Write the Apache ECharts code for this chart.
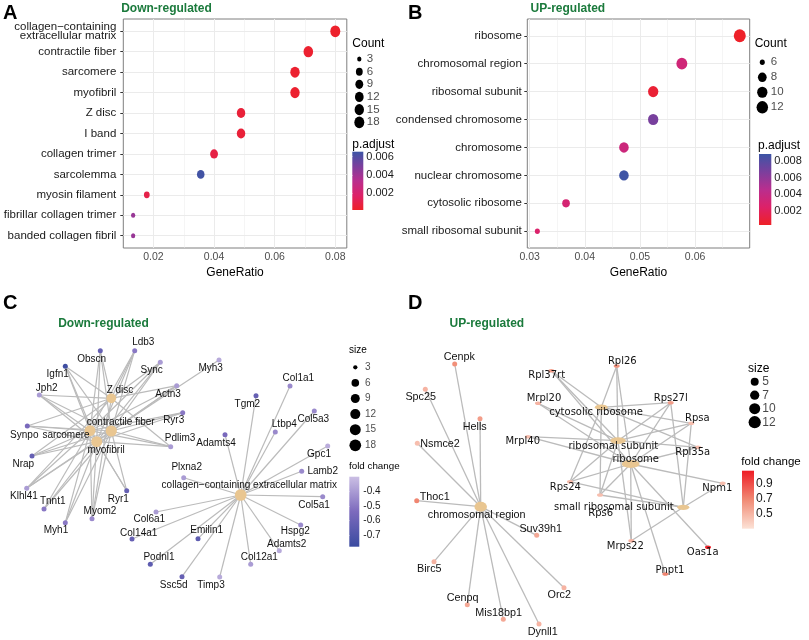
<!DOCTYPE html>
<html><head><meta charset="utf-8">
<script src="https://cdn.jsdelivr.net/npm/echarts@6/dist/echarts.min.js"></script>
<style>html,body{margin:0;padding:0;background:#fff}#c{width:809px;height:640px}</style>
</head><body><div id="c"></div>
<script>
// ================= DATA =================
// Panel A (Down-regulated GO dot plot)
const aTerms = ['collagen\u2212containing\nextracellular matrix','contractile fiber','sarcomere','myofibril','Z disc','I band','collagen trimer','sarcolemma','myosin filament','fibrillar collagen trimer','banded collagen fibril'];
const aGeneRatio = [0.0800,0.0711,0.0667,0.0667,0.0489,0.0489,0.0400,0.0356,0.0178,0.0133,0.0133];
const aCount = [18,16,15,15,11,11,9,8,4,3,3];
const aPadj = [0.0003,0.0004,0.0004,0.0004,0.0006,0.0006,0.0009,0.0064,0.0010,0.0042,0.0042];
const aXTicks = [0.02,0.04,0.06,0.08];
const aXMinor = [0.03,0.05,0.07];
const aCountBreaks = [3,6,9,12,15,18];
const aPadjBreaks = [0.002,0.004,0.006];

// Panel B (UP-regulated GO dot plot)
const bTerms = ['ribosome','chromosomal region','ribosomal subunit','condensed chromosome','chromosome','nuclear chromosome','cytosolic ribosome','small ribosomal subunit'];
const bGeneRatio = [0.0681,0.0576,0.0524,0.0524,0.0471,0.0471,0.0366,0.0314];
const bCount = [13,11,10,10,9,9,7,6];
const bPadj = [0.0004,0.0033,0.0008,0.0068,0.0035,0.0087,0.0030,0.0026];
const bXTicks = [0.03,0.04,0.05,0.06];
const bXMinor = [0.035,0.045,0.055,0.065];
const bCountBreaks = [6,8,10,12];
const bPadjBreaks = [0.002,0.004,0.006,0.008];

// Panel C (Down-regulated gene-concept network)
const cCategories = ['contractile fiber','sarcomere','myofibril','Z disc','collagen\u2212containing extracellular matrix'];
const cCatCount = [16,15,15,11,18];
const cGenes = ['Ldb3','Obscn','Igfn1','Sync','Myh3','Jph2','Actn3','Ryr3','Synpo','Pdlim3','Nrap','Klhl41','Tnnt1','Ryr1','Myom2','Myh1',
  'Tgm2','Col1a1','Ltbp4','Col5a3','Adamts4','Gpc1','Lamb2','Plxna2','Col5a1','Col6a1','Col14a1','Emilin1','Hspg2','Adamts2','Podnl1','Col12a1','Ssc5d','Timp3'];
const cFold = [-0.50,-0.62,-0.76,-0.40,-0.36,-0.40,-0.40,-0.50,-0.55,-0.40,-0.62,-0.40,-0.50,-0.62,-0.45,-0.50,
  -0.62,-0.45,-0.45,-0.45,-0.55,-0.35,-0.45,-0.40,-0.45,-0.40,-0.62,-0.65,-0.45,-0.36,-0.65,-0.40,-0.62,-0.36];
const cContractile = ['Ldb3','Obscn','Igfn1','Sync','Myh3','Jph2','Actn3','Ryr3','Synpo','Pdlim3','Nrap','Klhl41','Tnnt1','Ryr1','Myom2','Myh1'];
const cSarcomere = ['Ldb3','Obscn','Igfn1','Sync','Jph2','Actn3','Ryr3','Synpo','Pdlim3','Nrap','Klhl41','Tnnt1','Ryr1','Myom2','Myh1'];
const cMyofibril = ['Ldb3','Obscn','Igfn1','Sync','Jph2','Actn3','Ryr3','Synpo','Pdlim3','Nrap','Klhl41','Tnnt1','Ryr1','Myom2','Myh1'];
const cZdisc = ['Ldb3','Obscn','Igfn1','Sync','Jph2','Actn3','Synpo','Pdlim3','Nrap','Klhl41','Myom2'];
const cECM = ['Tgm2','Col1a1','Ltbp4','Col5a3','Adamts4','Gpc1','Lamb2','Plxna2','Col5a1','Col6a1','Col14a1','Emilin1','Hspg2','Adamts2','Podnl1','Col12a1','Ssc5d','Timp3'];
const cSizeBreaks = [3,6,9,12,15,18];
const cFoldBreaks = [-0.4,-0.5,-0.6,-0.7];

// Panel D (UP-regulated gene-concept network)
const dCategories = ['chromosomal region','cytosolic ribosome','ribosomal subunit','ribosome','small ribosomal subunit'];
const dCatCount = [11,7,10,13,6];
const dGenes = ['Cenpk','Spc25','Hells','Nsmce2','Thoc1','Suv39h1','Birc5','Cenpq','Mis18bp1','Dynll1','Orc2',
  'Rpl26','Rpl37rt','Mrpl20','Rps27l','Rpsa','Mrpl40','Rpl35a','Rps24','Npm1','Rps6','Mrps22','Oas1a','Pnpt1'];
const dFold = [0.66,0.50,0.60,0.45,0.70,0.55,0.50,0.55,0.55,0.50,0.50,
  0.65,0.60,0.50,0.60,0.45,0.45,0.45,0.47,0.45,0.45,0.50,1.05,0.70];
const dChromRegion = ['Cenpk','Spc25','Hells','Nsmce2','Thoc1','Suv39h1','Birc5','Cenpq','Mis18bp1','Dynll1','Orc2'];
const dCytosolic = ['Rpl26','Rpl37rt','Rps27l','Rpsa','Rpl35a','Rps24','Rps6'];
const dRiboSubunit = ['Rpl26','Rpl37rt','Mrpl20','Mrpl40','Rps27l','Rpsa','Rpl35a','Rps24','Rps6','Mrps22'];
const dRibosome = ['Rpl26','Rpl37rt','Mrpl20','Mrpl40','Rps27l','Rpsa','Rpl35a','Rps24','Rps6','Npm1','Mrps22','Oas1a','Pnpt1'];
const dSmallSub = ['Rps27l','Rpsa','Rps24','Rps6','Mrps22','Npm1'];
const dSizeBreaks = [5,7,10,12];
const dFoldBreaks = [0.5,0.7,0.9];

// Network layouts (layout units inside each panel)
const layoutC = {
  'Ldb3':[134.7,50.7],'Obscn':[100.3,50.7],'Igfn1':[65.3,66.3],'Sync':[160.3,62.3],'Myh3':[219,60],'Jph2':[39.3,95],
  'Z disc':[111.3,98.3],'Actn3':[176.7,85.7],'Ryr3':[182.7,112.7],'contractile fiber':[111.3,131],'sarcomere':[90,130.7],
  'myofibril':[96.7,141.7],'Synpo':[27.3,126],'Pdlim3':[170.7,146.7],'Nrap':[32,156],'Klhl41':[26.7,188.3],'Tnnt1':[44,209],
  'Ryr1':[126.7,190.7],'Myom2':[92,218.7],'Myh1':[65.3,222.7],
  'collagen\u2212containing extracellular matrix':[240.7,195],'Tgm2':[256,95.7],'Col1a1':[290,86],'Ltbp4':[275.3,132],
  'Col5a3':[314.3,111],'Adamts4':[225,134.7],'Gpc1':[327.7,146],'Lamb2':[301.7,171.3],'Plxna2':[183.7,177.7],
  'Col5a1':[322.7,196.7],'Col6a1':[156,212],'Col14a1':[132,239],'Emilin1':[198,238.7],'Hspg2':[300.7,225],
  'Adamts2':[279.3,250.7],'Podnl1':[150.3,264.3],'Col12a1':[250.7,264.3],'Ssc5d':[182,276.7],'Timp3':[219.7,277]
};
const layoutD = {
  'chromosomal region':[76.7,206.7],'Cenpk':[50.7,64],'Spc25':[21.3,89.3],'Hells':[76,118.7],'Nsmce2':[13.3,143.3],
  'Thoc1':[12.7,200.7],'Suv39h1':[132.7,235.3],'Birc5':[30,261.7],'Cenpq':[63.3,304.7],'Mis18bp1':[99.3,319.3],
  'Dynll1':[135,324],'Orc2':[160,287.7],
  'cytosolic ribosome':[197.3,107.3],'ribosomal subunit':[214,140.7],'ribosome':[226.7,164],'small ribosomal subunit':[279.3,207.3],
  'Rpl26':[212.7,66],'Rpl37rt':[147.3,70.7],'Mrpl20':[134,103.3],'Rps27l':[266.7,102.7],'Rpsa':[287.3,123.3],
  'Mrpl40':[124,136.7],'Rpl35a':[294,147.3],'Rps24':[166,181.7],'Npm1':[318.7,183.3],'Rps6':[196,195],
  'Mrps22':[227.3,240.7],'Oas1a':[304,247.3],'Pnpt1':[261.3,274]
};

// ================= STYLE =================
const SANS = "'Liberation Sans', Arial, sans-serif";
const WIDE = "'DejaVu Sans', sans-serif";
const GREEN = '#1B7A3C';
const TAN = '#E9C691';
const EDGE = '#BBBBBB';
const padjColors = ['#EE2127','#DD2168','#B92E8E','#7B3F9D','#3C55A5'];
const fcCColors = ['#3A4BA0','#7C6ABD','#CBBFE4'];
const fcDColors = ['#FCE2D6','#F08A74','#EE1C25'];

const labelOffC = {
  'Ldb3':[8.6,-8],'Obscn':[-8.6,8.6],'Igfn1':[-7.6,7.7],'Sync':[-8.6,8.4],'Myh3':[-8.3,8.3],'Jph2':[7.4,-6.3],
  'Z disc':[8.7,-8.3],'Actn3':[-8.7,8.6],'Ryr3':[-9,7.3],'contractile fiber':[9.4,-8.3],'sarcomere':[-24,5],
  'myofibril':[9.3,9],'Synpo':[-3,9],'Pdlim3':[9.3,-8],'Nrap':[-8.7,8],'Klhl41':[-2.7,7.7],'Tnnt1':[8.7,-8],
  'Ryr1':[-8.4,8.3],'Myom2':[8,-7.4],'Myh1':[-9.3,8],'collagen\u2212containing extracellular matrix':[8.6,-9.3],
  'Tgm2':[-8.7,8.3],'Col1a1':[8.3,-7.7],'Ltbp4':[9,-7.7],'Col5a3':[-1,8.3],'Adamts4':[-9,8.6],'Gpc1':[-8.7,8.3],
  'Lamb2':[21,0],'Plxna2':[3,-10.4],'Col5a1':[-8.7,8.3],'Col6a1':[-6.7,7],'Col14a1':[6.7,-6],'Emilin1':[8.7,-8],
  'Hspg2':[-5.4,6],'Adamts2':[7.4,-6.4],'Podnl1':[8.7,-7.3],'Col12a1':[8.6,-7.3],'Ssc5d':[-8.3,9],'Timp3':[-8.7,8.7]
};
const labelOffD = {
  'chromosomal region':[-4,8.6],'Cenpk':[4.6,-6.7],'Spc25':[-4.6,7.4],'Hells':[-5.3,8],'Nsmce2':[22.7,0.7],
  'Thoc1':[18,-3.4],'Suv39h1':[4,-6.6],'Birc5':[-4.7,7],'Cenpq':[-4.6,-7],'Mis18bp1':[-4.6,-6.6],'Dynll1':[3.7,7.7],
  'Orc2':[-4.7,7.3],'cytosolic ribosome':[-5.3,5],'ribosomal subunit':[-4.7,5.3],'ribosome':[5,-4.7],
  'small ribosomal subunit':[-69.5,0],'Rpl26':[5.6,-5],'Rpl37rt':[-4.6,4.6],'Mrpl20':[6,-4.6],'Rps27l':[0,-4.7],
  'Rpsa':[6,-5],'Mrpl40':[-5.3,5],'Rpl35a':[-5.3,5.4],'Rps24':[-4.7,5.6],'Npm1':[-5.4,5.4],'Rps6':[0.7,18],
  'Mrps22':[-6,6],'Oas1a':[-5.3,5.4],'Pnpt1':[4.7,-4]
};

function sizeA(c){ return 4.5 + 6*Math.sqrt((c-3)/15); }
function sizeB(c){ return 5 + 7*Math.sqrt(Math.max(0,(c-6)/7)); }
function sizeC(c){ return 4.3 + 7.4*Math.sqrt((c-3)/15); }
function sizeD(c){ return 5 + 0.6*c; }
function vgrad(colors){
  return {type:'linear',x:0,y:1,x2:0,y2:0,global:false,
    colorStops:colors.map((c,i)=>({offset:i/(colors.length-1),color:c}))};
}

// ================= BUILD =================
const grids=[], xAxes=[], yAxes=[], series=[], visualMaps=[], texts=[];
function addGrid(g,x,y){ grids.push(g); const gi=grids.length-1;
  xAxes.push(Object.assign({gridIndex:gi},x)); yAxes.push(Object.assign({gridIndex:gi},y)); return gi; }
const hidden = (min,max,inv)=>({type:'value',show:false,min:min,max:max,inverse:!!inv,splitLine:{show:false}});
function txt(x,y,s,font,fill,align){
  texts.push({type:'text',x:x,y:y,silent:true,z:100,style:{text:s,font:font,fill:fill||'#000',
    textAlign:align||'left',align:align||'left',textVerticalAlign:'middle',verticalAlign:'middle'}});
}

function dotPlot(cfg){
  const n=cfg.terms.length, idx=cfg.terms.map((t,i)=>i);
  const gi=addGrid({left:cfg.left,top:19,width:cfg.width,height:229,show:true,borderColor:'#7F7F7F',borderWidth:1,backgroundColor:'#fff'},
    {type:'value',min:cfg.xmin,max:cfg.xmax,axisLine:{show:false},splitLine:{show:false},
     axisTick:{show:true,length:3,lineStyle:{color:'#333'},customValues:cfg.ticks},
     axisLabel:{customValues:cfg.ticks,formatter:v=>String(+(+v).toFixed(3)),fontSize:10.5,color:'#4D4D4D',margin:4},
     name:'GeneRatio',nameLocation:'middle',nameGap:19,nameTextStyle:{fontSize:12,color:'#000'}},
    {type:'value',min:-0.6,max:n-0.4,inverse:true,axisLine:{show:false},splitLine:{show:false},
     axisTick:{show:true,length:3,lineStyle:{color:'#333'},customValues:idx},
     axisLabel:{customValues:idx,formatter:v=>cfg.terms[Math.round(v)],fontSize:11.5,color:'#1A1A1A',margin:cfg.margin,lineHeight:9}});
  const gl=[];
  cfg.ticks.forEach(v=>gl.push({coords:[[v,-0.6],[v,n-0.4]],lineStyle:{width:1}}));
  cfg.minor.forEach(v=>gl.push({coords:[[v,-0.6],[v,n-0.4]],lineStyle:{width:0.5}}));
  idx.forEach(i=>gl.push({coords:[[cfg.xmin,i],[cfg.xmax,i]],lineStyle:{width:1}}));
  series.push({type:'lines',coordinateSystem:'cartesian2d',xAxisIndex:gi,yAxisIndex:gi,silent:true,z:1,
    lineStyle:{color:'#EBEBEB',opacity:1},data:gl});
  series.push({type:'scatter',xAxisIndex:gi,yAxisIndex:gi,z:3,silent:true,
    symbolSize:v=>{const d=cfg.size(v[3]);return [d*cfg.sx,d*cfg.sy];},
    itemStyle:{opacity:1},
    data:cfg.terms.map((t,i)=>[cfg.ratio[i],i,cfg.padj[i],cfg.count[i]])});
  visualMaps.push({type:'continuous',show:false,seriesIndex:series.length-1,dimension:2,min:cfg.pmin,max:cfg.pmax,inRange:{color:padjColors}});
  const lg=addGrid({left:cfg.legX-5,top:cfg.legY0-cfg.legStep/2,width:10,height:cfg.legStep*cfg.breaks.length,show:false},
    hidden(0,1),hidden(-0.5,cfg.breaks.length-0.5,true));
  series.push({type:'scatter',xAxisIndex:lg,yAxisIndex:lg,silent:true,z:3,itemStyle:{color:'#000',opacity:1},
    symbolSize:v=>{const d=cfg.size(v[2]);return [d*cfg.sx,d*cfg.sy];},
    data:cfg.breaks.map((b,i)=>[0.5,i,b])});
  series.push({type:'scatter',xAxisIndex:lg,yAxisIndex:lg,silent:true,z:3,symbolSize:0.1,itemStyle:{color:'transparent'},
    label:{show:true,position:'right',distance:cfg.legLabDist,formatter:p=>String(p.value[2]),fontSize:11.5,color:'#1A1A1A'},
    data:cfg.breaks.map((b,i)=>[0.5,i,b])});
  addGrid({left:cfg.cbX,top:cfg.cbY,width:cfg.cbW,height:cfg.cbH,show:true,borderWidth:0,backgroundColor:vgrad(padjColors)},
    hidden(0,1),
    {type:'value',min:cfg.pmin,max:cfg.pmax,position:'right',axisLine:{show:false},splitLine:{show:false},
     axisTick:{show:true,inside:true,length:2.5,lineStyle:{color:'#fff',width:1},customValues:cfg.pbreaks},
     axisLabel:{customValues:cfg.pbreaks,formatter:v=>(+v).toFixed(3),fontSize:11,color:'#1A1A1A',margin:3}});
}

dotPlot({terms:aTerms,ratio:aGeneRatio,count:aCount,padj:aPadj,ticks:aXTicks,minor:aXMinor,breaks:aCountBreaks,pbreaks:aPadjBreaks,
  left:123.3,width:223.5,xmin:0.01005,xmax:0.0838,margin:7,size:sizeA,sx:0.95,sy:1.12,pmin:0.00017,pmax:0.00655,
  legX:359.3,legY0:59,legStep:12.66,legLabDist:7.4,cbX:352.3,cbY:151.7,cbW:11,cbH:58.3});
dotPlot({terms:bTerms,ratio:bGeneRatio,count:bCount,padj:bPadj,ticks:bXTicks,minor:bXMinor,breaks:bCountBreaks,pbreaks:bPadjBreaks,
  left:527.3,width:222.4,xmin:0.02958,xmax:0.0699,margin:5.5,size:sizeB,sx:1,sy:1.08,pmin:0.00034,pmax:0.0088,
  legX:762.3,legY0:62.3,legStep:15,legLabDist:8.4,cbX:759,cbY:154,cbW:12.3,cbH:71});

function network(cfg){
  const gi=addGrid({left:cfg.left,top:300,width:cfg.w,height:340,show:false},hidden(0,cfg.w),hidden(0,340,true));
  const edges=[];
  cfg.members.forEach(([cat,list])=>list.forEach(g=>edges.push({coords:[cfg.layout[cat],cfg.layout[g]]})));
  series.push({type:'lines',coordinateSystem:'cartesian2d',xAxisIndex:gi,yAxisIndex:gi,silent:true,z:2,
    lineStyle:{color:EDGE,width:cfg.edgeW,opacity:1},data:edges});
  const lab=(name)=>({show:true,position:'inside',offset:cfg.labelOff[name],formatter:'{b}',color:'#111',
    fontSize:cfg.fontSize(name),fontFamily:cfg.font(name)});
  series.push({type:'scatter',xAxisIndex:gi,yAxisIndex:gi,silent:true,z:3,itemStyle:{color:TAN,opacity:1},
    data:cfg.cats.map((c,i)=>({name:c,value:[cfg.layout[c][0],cfg.layout[c][1],cfg.catCount[i]],
      symbolSize:cfg.catSym(c,cfg.catCount[i]),label:lab(c)}))});
  series.push({type:'scatter',xAxisIndex:gi,yAxisIndex:gi,silent:true,z:4,itemStyle:{opacity:1},
    data:cfg.genes.map((g,i)=>({name:g,value:[cfg.layout[g][0],cfg.layout[g][1],cfg.fold[i]],
      symbolSize:cfg.geneSym(g),label:lab(g)}))});
  visualMaps.push({type:'continuous',show:false,seriesIndex:series.length-1,dimension:2,min:cfg.fmin,max:cfg.fmax,inRange:{color:cfg.colors}});
  const lg=addGrid({left:cfg.legX-5,top:cfg.legY0-cfg.legStep/2,width:10,height:cfg.legStep*cfg.breaks.length,show:false},
    hidden(0,1),hidden(-0.5,cfg.breaks.length-0.5,true));
  series.push({type:'scatter',xAxisIndex:lg,yAxisIndex:lg,silent:true,z:3,itemStyle:{color:'#000',opacity:1},
    symbolSize:v=>cfg.size(v[2]),data:cfg.breaks.map((b,i)=>[0.5,i,b])});
  series.push({type:'scatter',xAxisIndex:lg,yAxisIndex:lg,silent:true,z:3,symbolSize:0.1,itemStyle:{color:'transparent'},
    label:{show:true,position:'right',distance:cfg.legLabDist,formatter:p=>String(p.value[2]),fontSize:cfg.legFont,color:'#1A1A1A'},
    data:cfg.breaks.map((b,i)=>[0.5,i,b])});
  addGrid({left:cfg.cbX,top:cfg.cbY,width:cfg.cbW,height:cfg.cbH,show:true,borderWidth:0,backgroundColor:vgrad(cfg.colors)},
    hidden(0,1),
    {type:'value',min:cfg.fmin,max:cfg.fmax,position:'right',axisLine:{show:false},splitLine:{show:false},
     axisTick:{show:true,inside:true,length:2.5,lineStyle:{color:'#fff',width:1},customValues:cfg.fbreaks},
     axisLabel:{customValues:cfg.fbreaks,formatter:v=>(+v).toFixed(1),fontSize:cfg.legFont,color:'#1A1A1A',margin:cfg.cbMargin}});
}

network({left:0,w:404,layout:layoutC,labelOff:labelOffC,cats:cCategories,catCount:cCatCount,genes:cGenes,fold:cFold,
  members:[['contractile fiber',cContractile],['sarcomere',cSarcomere],['myofibril',cMyofibril],['Z disc',cZdisc],[cCategories[4],cECM]],
  font:()=>SANS,fontSize:()=>10,edgeW:1.2,
  catSym:(c,n)=>sizeC(n),geneSym:()=>5,size:sizeC,
  fmin:-0.78,fmax:-0.30,colors:fcCColors,breaks:cSizeBreaks,fbreaks:cFoldBreaks,
  legX:355.3,legY0:367.3,legStep:15.6,legLabDist:9.7,legFont:10,
  cbX:349.3,cbY:476.7,cbW:10,cbH:70,cbMargin:4});

const riboCluster = new Set([...dRibosome,...dSmallSub,'cytosolic ribosome','ribosomal subunit','ribosome','small ribosomal subunit']);
network({left:404,w:405,layout:layoutD,labelOff:labelOffD,cats:dCategories,catCount:dCatCount,genes:dGenes,fold:dFold,
  members:[['chromosomal region',dChromRegion],['cytosolic ribosome',dCytosolic],['ribosomal subunit',dRiboSubunit],['ribosome',dRibosome],['small ribosomal subunit',dSmallSub]],
  font:n=>riboCluster.has(n)?WIDE:SANS,fontSize:n=>riboCluster.has(n)?10:10.8,edgeW:1.3,
  catSym:(c,n)=>{const d=sizeD(n);return riboCluster.has(c)?[d*1.4,d*0.62]:[d*1.08,d*0.87];},
  geneSym:g=>riboCluster.has(g)?[6,3.6]:[5,5],size:sizeD,
  fmin:0.29,fmax:1.08,colors:fcDColors,breaks:dSizeBreaks,fbreaks:dFoldBreaks,
  legX:754.7,legY0:381.7,legStep:13.5,legLabDist:7.6,legFont:12,
  cbX:742,cbY:470.7,cbW:12,cbH:58,cbMargin:2});

// ================= TEXTS =================
txt(3,13.7,'A','bold 20px '+SANS);
txt(408,13.7,'B','bold 20px '+SANS);
txt(3,303.3,'C','bold 20px '+SANS);
txt(408,303.3,'D','bold 20px '+SANS);
txt(166.5,8.7,'Down-regulated','bold 12px '+SANS,GREEN,'center');
txt(567.8,8.7,'UP-regulated','bold 12px '+SANS,GREEN,'center');
txt(103.5,323.8,'Down-regulated','bold 12px '+SANS,GREEN,'center');
txt(486.8,323.8,'UP-regulated','bold 12px '+SANS,GREEN,'center');
txt(352.3,43.3,'Count','12px '+SANS,'#000');
txt(352.3,145,'p.adjust','12px '+SANS,'#000');
txt(754.7,43.3,'Count','12px '+SANS,'#000');
txt(758,145.7,'p.adjust','12px '+SANS,'#000');
txt(349,350.7,'size','10px '+SANS,'#000');
txt(349,466.7,'fold change','9.8px '+SANS,'#000');
txt(748,368.3,'size','12px '+SANS,'#000');
txt(741.3,461.7,'fold change','11.5px '+SANS,'#000');

const chart = echarts.init(document.getElementById('c'),null,{renderer:'canvas',width:809,height:640});
chart.setOption({
  animation:false,
  backgroundColor:'#fff',
  textStyle:{fontFamily:SANS},
  grid:grids,xAxis:xAxes,yAxis:yAxes,visualMap:visualMaps,series:series,graphic:{elements:texts}
});
</script></body></html>
